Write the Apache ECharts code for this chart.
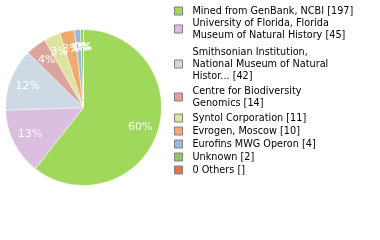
<!DOCTYPE html>
<html><head><meta charset="utf-8">
<script src="https://cdn.jsdelivr.net/npm/echarts@6/dist/echarts.min.js"></script>
<style>html,body{margin:0;padding:0;background:#fff}#c{width:380px;height:240px}</style>
</head><body><div id="c"></div>
<script>
var categories = ['Mined from GenBank, NCBI','University of Florida, Florida Museum of Natural History','Smithsonian Institution, National Museum of Natural History','Centre for Biodiversity Genomics','Syntol Corporation','Evrogen, Moscow','Eurofins MWG Operon','Unknown','0 Others'];
var legendTexts = ['Mined from GenBank, NCBI [197]','University of Florida, Florida\nMuseum of Natural History [45]','Smithsonian Institution,\nNational Museum of Natural\nHistor... [42]','Centre for Biodiversity\nGenomics [14]','Syntol Corporation [11]','Evrogen, Moscow [10]','Eurofins MWG Operon [4]','Unknown [2]','0 Others []'];
var values = [197,45,42,14,11,10,4,2,0];
var colors = ['#a0d85c','#dcbee0','#cdd9e5','#dca59c','#dfe3a0','#f0aa6c','#98b8de','#96c46a','#e07452'];
var legendTops = [5,17,46,85,112,125,138,151,164];

var chart = echarts.init(document.getElementById('c'), null, {renderer:'canvas'});
var data = categories.map(function(n,i){return {name:n, value:values[i], itemStyle:{color:colors[i]}};});
var labelData = categories.map(function(n,i){return {name:n, value:values[i], itemStyle:{color:'rgba(0,0,0,0)'}};});
var legends = categories.map(function(n,i){
  return {
    data:[{name:n, itemStyle:{color:colors[i], borderColor:'#808080', borderWidth:1}}],
    orient:'vertical', left:174, top:legendTops[i], padding:0,
    itemWidth:8, itemHeight:8, itemGap:0,
    icon:'rect',
    textStyle:{fontFamily:'DejaVu Sans', fontSize:9.7, color:'#000', lineHeight:12, padding:[0,0,0,5]},
    formatter:function(){return legendTexts[i];},
    selectedMode:false
  };
});
chart.setOption({
  animation:false,
  legend: legends,
  series:[
    {type:'pie', center:[83.5,107.5], radius:[0,78], startAngle:90, clockwise:true,
     data:data, label:{show:false}, labelLine:{show:false}, silent:true,
     itemStyle:{borderColor:'#fff', borderWidth:0.5}},
    {type:'pie', center:[83.5,107.5], radius:[36,78], startAngle:90, clockwise:true,
     data:labelData, silent:true, legendHoverLink:false, minShowLabelAngle:0,
     labelLine:{show:false},
     labelLayout:{hideOverlap:false},
     label:{show:true, position:'inside', color:'#fff', fontFamily:'DejaVu Sans', fontSize:11,
       formatter:function(p){return Math.floor(p.percent)+'%';}}}
  ]
});
</script></body></html>
